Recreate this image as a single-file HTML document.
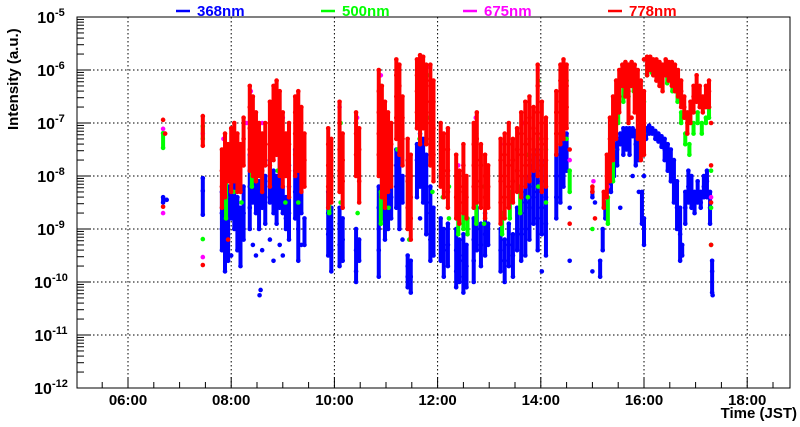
<!DOCTYPE html>
<html><head><meta charset="utf-8"><style>
html,body{margin:0;padding:0;background:#fff;}
svg{display:block;font-family:"Liberation Sans",Arial,sans-serif;}
</style></head><body>
<svg id="chart" width="800" height="427" viewBox="0 0 800 427" xmlns="http://www.w3.org/2000/svg">
<g id="grid"></g>
<g id="series"></g>
<g id="axes"></g>
<g font-weight="bold" font-size="15">
  <g><line x1="176" y1="11" x2="190" y2="11" stroke="#0000ff" stroke-width="2.5"/><text x="197" y="16" fill="#0000ff">368nm</text></g>
  <g><line x1="321" y1="11" x2="335" y2="11" stroke="#00ff00" stroke-width="2.5"/><text x="342" y="16" fill="#00ff00">500nm</text></g>
  <g><line x1="463" y1="11" x2="477" y2="11" stroke="#ff00ff" stroke-width="2.5"/><text x="484" y="16" fill="#ff00ff">675nm</text></g>
  <g><line x1="608" y1="11" x2="622" y2="11" stroke="#ff0000" stroke-width="2.5"/><text x="629" y="16" fill="#ff0000">778nm</text></g>
</g>
<text transform="translate(18,130) rotate(-90)" font-size="15" font-weight="bold">Intensity (a.u.)</text>
<text x="797" y="418" text-anchor="end" font-size="15" font-weight="bold">Time (JST)</text>
</svg>
<script>
const xTickLabels = ["06:00","08:00","10:00","12:00","14:00","16:00","18:00"];
const xTickHours = [6,8,10,12,14,16,18];
const yTickExps = [-12,-11,-10,-9,-8,-7,-6,-5];

const blueT = [6.68,6.75,7.45,7.82,7.88,7.94,8.0,8.06,8.12,8.18,8.24,8.36,8.42,8.48,8.54,8.6,8.66,8.75,8.82,8.88,8.94,9.0,9.06,9.12,9.24,9.3,9.36,9.42,9.88,9.94,10.1,10.16,10.42,10.48,10.86,10.92,10.98,11.04,11.1,11.2,11.26,11.32,11.42,11.48,11.6,11.66,11.72,11.78,11.86,11.92,12.06,12.12,12.2,12.36,12.42,12.5,12.56,12.7,12.76,12.84,12.92,12.98,13.22,13.3,13.38,13.46,13.54,13.62,13.7,13.78,13.86,13.94,14.02,14.1,14.3,14.38,14.44,14.5,14.56,15.0,15.05,15.15,15.2,15.25,15.3,15.36,15.42,15.48,15.54,15.6,15.66,15.72,15.78,15.84,15.9,15.96,16.0,16.04,16.1,16.16,16.22,16.28,16.34,16.4,16.46,16.52,16.58,16.64,16.7,16.74,16.8,16.86,16.92,16.98,17.04,17.1,17.16,17.22,17.28,17.32];
const blueV = [[-8.4,-8.5],[-8.45],[-8.04,-8.28,-8.73],[-8.3,-8.7,-9.0,-9.4],[-8.0,-8.5,-8.9,-9.3,-9.8],[-8.2,-8.6,-9.1,-9.6],[-8.3,-8.8,-9.5],[-8.1,-8.5,-9.0],[-8.4,-8.9,-9.4],[-8.6,-9.1,-9.7],[-8.2,-8.7,-9.2],[-7.6,-7.9,-8.2,-8.6,-9.0],[-7.8,-8.1,-8.5,-9.3],[-7.9,-8.3,-8.7,-9.5],[-8.1,-8.5,-9.0],[-7.8,-8.2,-8.6,-9.4],[-8.0,-8.4,-8.9],[-7.7,-8.1,-8.5,-9.2],[-7.9,-8.3,-8.7,-9.6],[-8.0,-8.4,-8.9],[-7.6,-8.1,-8.6,-9.3],[-8.2,-8.7,-9.5],[-8.4,-8.8,-9.0],[-7.8,-8.2,-8.7,-9.2],[-7.5,-7.9,-8.3,-8.8],[-7.6,-8.0,-8.5,-9.0,-9.6],[-8.2,-8.7,-9.3],[-8.8,-9.3],[-8.3,-8.7,-9.1,-9.5],[-8.6,-9.0,-9.4,-9.8],[-8.6,-8.9,-9.3,-9.7],[-8.8,-9.2,-9.6],[-9.0,-9.4,-9.8,-10.0],[-9.2,-9.6],[-8.2,-8.6,-9.0,-9.4,-9.9],[-7.7,-8.0,-8.4,-8.8],[-7.9,-8.3,-8.7,-9.2],[-7.8,-8.1,-8.5,-9.0],[-8.0,-8.4,-8.8],[-7.5,-7.8,-8.2,-8.6],[-7.6,-8.0,-8.5,-9.0],[-8.0,-8.5,-9.2],[-9.5,-9.7,-9.9,-10.1],[-9.6,-9.9,-10.2],[-7.4,-7.7,-8.0,-8.4],[-7.2,-7.5,-7.8,-8.2,-8.8],[-7.3,-7.6,-8.0,-8.5],[-7.6,-8.0,-8.5,-9.1],[-8.2,-8.7,-9.2,-9.6],[-8.6,-9.0,-9.5],[-8.8,-9.2,-9.6],[-9.0,-9.4,-9.9],[-8.9,-9.3,-9.7],[-9.0,-9.4,-9.8,-10.1],[-9.2,-9.6,-10.0],[-9.1,-9.5,-9.9,-10.2],[-9.3,-9.7,-10.1],[-8.8,-9.2,-9.6,-10.0],[-8.6,-9.0,-9.4],[-8.9,-9.3,-9.7],[-8.7,-9.1,-9.5],[-8.9,-9.3],[-9.0,-9.4,-9.8],[-9.2,-9.6,-10.0],[-8.9,-9.3,-9.7],[-9.1,-9.5,-9.9],[-8.6,-9.0,-9.4],[-8.3,-8.7,-9.1,-9.6],[-8.0,-8.5,-9.0,-9.5],[-7.8,-8.2,-8.6,-9.2],[-7.6,-8.0,-8.4,-8.9],[-7.5,-7.9,-8.3,-8.8,-9.4],[-7.7,-8.1,-8.6,-9.1,-9.8],[-8.0,-8.4,-8.9,-9.5],[-7.6,-8.0,-8.4,-8.8],[-7.2,-7.6,-8.0,-8.5],[-7.1,-7.4,-7.8,-8.2],[-7.2,-7.5,-7.9],[-8.6,-9.6],[-8.3,-8.4,-9.8],[-8.5],[-9.6,-9.9],[-9.0,-9.4],[-8.5,-8.8],[-8.0,-8.3],[-7.6,-7.9,-8.3],[-7.4,-7.6,-8.0],[-7.3,-7.5,-7.8],[-7.2,-7.4,-8.6],[-7.1,-7.3,-7.6],[-7.1,-7.3,-7.5],[-7.1,-7.2,-7.6],[-7.1,-7.25,-8.0],[-7.15,-7.4,-7.8],[-7.3,-7.7,-8.3],[-7.6,-8.3,-8.9],[-8.0,-8.8,-9.3],[-7.1,-7.3],[-7.05,-7.2],[-7.1,-7.2],[-7.15,-7.3],[-7.2,-7.35],[-7.25,-7.45],[-7.3,-7.5,-7.7],[-7.4,-7.6,-7.9],[-7.5,-7.8,-8.1],[-7.7,-8.1,-8.5],[-8.1,-8.6,-9.0],[-8.6,-9.1,-9.6],[-9.3,-9.5],[-8.3,-8.6,-8.9],[-7.9,-8.2,-8.5],[-8.0,-8.3,-8.6],[-8.3,-8.5,-8.7],[-8.1,-8.3,-8.5],[-8.3,-8.5,-8.6],[-8.0,-8.2,-8.4],[-7.9,-8.1,-8.4],[-8.3,-8.6,-8.9],[-9.6,-9.8,-10.2]];
const blueOutT = [8.55,8.57,17.33];
const blueOutV = [-10.25,-10.15,-10.25];

const greenT = [6.68,7.45,7.9,8.05,8.2,8.4,8.55,8.8,8.9,9.05,9.3,9.9,10.12,10.45,10.9,11.05,11.22,11.45,11.65,11.8,11.9,12.1,12.22,12.4,12.5,12.58,12.75,12.9,13.25,13.4,13.6,13.75,13.95,14.1,14.4,14.5,14.56,15.0,15.3,15.4,15.5,15.6,15.7,15.8,15.9,16.0,16.06,16.15,16.25,16.35,16.45,16.55,16.65,16.72,16.8,16.88,16.96,17.04,17.12,17.2,17.26,17.3];
const greenV = [[-7.19,-7.47],[-7.06,-7.3,-9.19],[-7.9,-8.4,-8.8],[-7.6,-8.3],[-7.5,-8.5],[-6.9,-7.6,-8.2],[-7.2,-8.0],[-6.6,-7.3],[-6.7,-7.9],[-7.5,-8.5],[-6.9,-7.6,-8.5],[-8.1,-8.7],[-7.0,-8.5],[-7.6,-8.7],[-6.3,-7.0,-8.3,-8.9],[-7.5,-8.6],[-6.0,-6.7,-7.5],[-8.2,-9.2],[-5.9,-6.5,-7.3],[-6.1,-6.9],[-6.4,-7.5,-8.3],[-7.6,-8.4],[-8.2,-8.8],[-8.6,-9.1],[-8.5,-9.0],[-8.8,-9.1],[-7.2,-8.3,-8.9],[-8.2,-8.9],[-8.7,-9.1],[-8.3,-8.8],[-8.2,-8.7],[-7.6,-8.4],[-6.2,-7.3,-8.2],[-7.5,-8.5],[-6.0,-6.4,-7.0],[-6.2,-7.3],[-7.9,-8.3],[-9.0],[-8.4,-8.9],[-7.5,-8.1],[-6.7,-7.0],[-6.2,-6.6],[-6.2,-6.5],[-6.2,-6.4],[-6.4,-6.7],[-6.6,-7.2],[-6.0,-6.1],[-5.95,-6.05],[-6.0,-6.1],[-6.05,-6.2],[-6.1,-6.25],[-6.2,-6.4],[-6.4,-6.6],[-6.8,-7.0],[-7.2,-7.4],[-7.4,-7.6],[-7.0,-7.2],[-6.8,-7.0],[-7.0,-7.2],[-6.9,-7.0],[-6.7,-6.9],[-7.9,-8.6,-9.3]];

const magT = [6.68,7.45,7.85,8.3,8.38,8.6,8.85,9.0,9.28,9.9,10.1,10.44,10.9,11.24,11.66,11.85,12.08,12.4,12.74,13.3,13.66,13.94,14.4,14.56,15.02,15.3,15.5,15.8,16.1,16.5,17.3];
const magV = [[-7.11,-8.7],[-7.2,-9.53],[-7.3,-8.0],[-7.0],[-6.4,-7.3],[-7.0],[-6.3,-7.1],[-6.9],[-6.5,-7.4],[-7.5],[-6.7],[-6.9],[-6.1,-7.2],[-5.9],[-5.8,-6.8],[-5.95],[-7.2],[-7.8,-8.6],[-6.9],[-7.4],[-7.0],[-6.0],[-5.9],[-7.7],[-8.1],[-8.2],[-6.3],[-5.95],[-5.8],[-5.95],[-8.4]];

const redT = [6.68,6.72,7.45,7.82,7.88,7.94,8.0,8.06,8.12,8.18,8.24,8.36,8.42,8.48,8.54,8.6,8.66,8.75,8.82,8.88,8.94,9.0,9.06,9.12,9.24,9.3,9.36,9.42,9.88,9.94,10.1,10.16,10.42,10.48,10.86,10.92,10.98,11.04,11.1,11.2,11.26,11.32,11.42,11.48,11.6,11.66,11.72,11.78,11.86,11.92,12.06,12.12,12.2,12.36,12.42,12.5,12.56,12.7,12.76,12.84,12.92,12.98,13.22,13.3,13.38,13.46,13.54,13.62,13.7,13.78,13.86,13.94,14.02,14.1,14.3,14.38,14.44,14.5,14.56,15.0,15.05,15.22,15.28,15.34,15.4,15.46,15.52,15.58,15.64,15.7,15.76,15.82,15.88,15.94,16.0,16.06,16.12,16.18,16.24,16.3,16.36,16.42,16.48,16.54,16.6,16.66,16.72,16.78,16.84,16.9,16.96,17.02,17.08,17.14,17.2,17.26,17.3];
const redV = [[-6.94,-8.58],[-7.2],[-6.87,-7.43,-9.68],[-7.5,-7.9,-8.2,-8.6],[-7.2,-7.6,-8.0,-8.4],[-7.4,-7.8,-8.1,-9.2],[-7.1,-7.5,-7.9,-8.3],[-7.0,-7.3,-7.7,-8.1],[-7.2,-7.6,-8.0,-8.3],[-7.4,-7.8,-8.3],[-6.9,-7.3,-7.8],[-6.3,-6.7,-7.1,-7.5,-7.9],[-6.5,-6.9,-7.2,-7.6,-8.0],[-6.8,-7.1,-7.4,-7.7,-8.1],[-7.0,-7.3,-7.6,-8.0],[-7.2,-7.5,-7.9,-8.3],[-7.0,-7.4,-7.8],[-6.6,-7.0,-7.4,-7.8,-8.2],[-6.3,-6.6,-7.0,-7.3,-7.7],[-6.2,-6.5,-6.9,-7.2,-7.6],[-6.4,-6.8,-7.1,-7.5,-8.0],[-6.8,-7.2,-7.6,-8.2],[-7.2,-7.6,-8.0],[-7.0,-7.4,-7.9,-8.4],[-6.5,-6.8,-7.2,-7.6,-8.0],[-6.4,-6.7,-7.1,-7.5,-7.9],[-6.7,-7.0,-7.4,-7.8,-8.3],[-7.2,-7.7,-8.2],[-7.1,-7.4,-7.8,-8.2,-8.6],[-7.3,-7.7,-8.1,-8.5],[-6.6,-7.0,-7.5,-7.9,-8.3],[-7.2,-7.7,-8.1,-8.6],[-6.8,-7.2,-7.6,-8.0],[-7.1,-7.5,-8.1,-8.5],[-6.0,-6.4,-6.8,-7.2,-7.6,-8.0],[-6.3,-6.7,-7.1,-7.5,-7.9,-8.4],[-6.6,-7.0,-7.4,-7.7,-8.1,-8.6],[-6.8,-7.1,-7.4,-7.8,-8.3],[-7.0,-7.4,-7.8,-8.2],[-5.8,-6.1,-6.5,-6.9,-7.3],[-5.9,-6.3,-6.7,-7.1,-7.6],[-6.5,-6.9,-7.3,-7.8],[-7.3,-7.7,-8.1,-8.6,-9.0],[-7.6,-8.0,-8.4,-8.8,-9.2],[-5.8,-6.1,-6.4,-6.8,-7.1],[-5.72,-6.0,-6.3,-6.6,-7.0,-7.4],[-5.75,-6.0,-6.3,-6.7,-7.1],[-5.9,-6.2,-6.6,-7.0,-7.4],[-5.9,-6.3,-6.8,-7.3,-7.8],[-6.2,-6.6,-7.1,-7.6,-8.1],[-7.0,-7.4,-7.8,-8.2],[-7.2,-7.5,-7.9,-8.4],[-7.1,-7.5,-7.9,-8.3,-8.6],[-7.6,-8.0,-8.4,-8.8],[-7.9,-8.2,-8.5,-8.9],[-7.4,-7.8,-8.3,-8.7],[-8.0,-8.4,-8.8],[-7.0,-7.4,-7.8,-8.2,-8.6],[-6.8,-7.3,-7.7,-8.1,-8.5],[-7.4,-7.8,-8.2,-8.6],[-7.6,-8.0,-8.4,-8.8],[-7.8,-8.2,-8.6],[-7.3,-7.7,-8.1,-8.5,-8.9],[-7.2,-7.6,-8.0,-8.4,-8.8],[-7.0,-7.4,-7.8,-8.2,-8.6],[-7.3,-7.7,-8.1,-8.5],[-7.1,-7.5,-7.9,-8.3],[-6.8,-7.2,-7.6,-8.0,-8.4],[-6.6,-7.0,-7.4,-7.8,-8.2],[-6.5,-6.9,-7.3,-7.7,-8.1],[-6.7,-7.1,-7.5,-7.9],[-5.9,-6.3,-6.8,-7.2,-7.6,-8.0],[-6.6,-7.0,-7.4,-7.8,-8.3],[-6.9,-7.3,-7.7,-8.2],[-6.4,-6.8,-7.2,-7.6],[-5.9,-6.2,-6.6,-7.0,-7.4],[-5.8,-6.1,-6.5,-6.9,-7.3],[-5.9,-6.3,-6.7,-7.1],[-7.5,-8.9],[-8.3,-8.2],[-8.8],[-8.3,-8.6],[-7.6,-8.0,-8.4],[-6.9,-7.3,-7.7,-8.1],[-6.5,-6.9,-7.3,-7.7],[-6.2,-6.5,-6.9,-7.3],[-6.0,-6.2,-6.5,-6.8],[-5.9,-6.1,-6.3],[-5.85,-6.0,-6.2,-6.5],[-5.9,-6.1,-6.4,-7.0],[-5.85,-6.0,-6.3,-6.9],[-5.9,-6.1,-6.4,-6.8],[-6.0,-6.3,-6.8,-7.3],[-6.2,-6.7,-7.2,-7.7],[-5.8,-6.4,-7.0,-7.6],[-5.75,-5.9,-6.1],[-5.75,-5.85,-6.0],[-5.8,-5.9,-6.1],[-5.8,-5.95,-6.2],[-5.85,-6.0,-6.3],[-5.9,-6.1,-6.4],[-5.8,-5.9,-6.1],[-5.85,-5.95,-6.2],[-5.85,-6.0,-6.3],[-5.9,-6.05,-6.4],[-6.0,-6.2,-6.5],[-6.2,-6.4,-6.7],[-6.5,-6.7,-6.9],[-6.8,-7.0,-7.2],[-6.6,-6.8,-7.0],[-6.3,-6.5,-6.8],[-6.1,-6.3,-6.6],[-6.3,-6.5,-6.7],[-6.5,-6.6,-6.8],[-6.3,-6.5,-6.7],[-6.2,-6.4,-6.7],[-7.0,-7.8,-8.5,-9.3]];

const NS = "http://www.w3.org/2000/svg";
const L = 77, R = 790, T = 17, B = 388;
function xScale(h){ return 128 + (h - 6) * 51.6; }
function yScale(e){ return B - (e + 12) * 53; }
function mk(tag, attrs, parent){ const el = document.createElementNS(NS, tag); for (const k in attrs) el.setAttribute(k, attrs[k]); parent.appendChild(el); return el; }

const grid = document.getElementById('grid');
const axes = document.getElementById('axes');
const seriesG = document.getElementById('series');

xTickHours.forEach(h => {
  const l = mk('line', {x1:xScale(h), x2:xScale(h), y1:T, y2:B, stroke:'#000', 'stroke-width':1, 'stroke-dasharray':'1.5,2.5'}, grid);
  
  
});
yTickExps.forEach(e => {
  if (e === -12 || e === -5) return;
  const l = mk('line', {x1:L, x2:R, y1:yScale(e), y2:yScale(e), stroke:'#000', 'stroke-width':1, 'stroke-dasharray':'1.5,2.5'}, grid);
  
  
});

function drawSeries(ts, vs, color, name){
  const g = mk('g', {}, seriesG);
  
  
  ts.forEach((t, i) => {
    const x = xScale(t);
    const vals = vs[i];
    for (let j = 0; j < vals.length - 1; j++) {
      if (Math.abs(vals[j] - vals[j+1]) <= 0.6) {
        const s = mk('line', {x1:x, x2:x, y1:yScale(vals[j]), y2:yScale(vals[j+1]), stroke:color, 'stroke-width':4, 'stroke-linecap':'round'}, g);
        
        
      }
    }
    vals.forEach(v => {
      const c = mk('circle', {cx:x, cy:yScale(v), r:2.3, fill:color}, g);
      
      
    });
  });
}
drawSeries(blueT, blueV, '#0000ff', 'series-368nm');
drawSeries(blueOutT, blueOutV.map(v => [v]), '#0000ff', 'series-368nm-outliers');
drawSeries(greenT, greenV, '#00ff00', 'series-500nm');
drawSeries(magT, magV, '#ff00ff', 'series-675nm');
drawSeries(redT, redV, '#ff0000', 'series-778nm');

const frame = mk('rect', {x:L, y:T, width:R-L, height:B-T, fill:'none', stroke:'#000', 'stroke-width':1}, axes);



yTickExps.forEach(e => {
  const y = yScale(e);
  const t = mk('line', {x1:L, x2:L+14, y1:y, y2:y, stroke:'#000', 'stroke-width':1}, axes);
  
  
  if (e < -5) {
    for (let m = 2; m <= 9; m++) {
      const ym = yScale(e + Math.log10(m));
      const mt = mk('line', {x1:L, x2:L+7, y1:ym, y2:ym, stroke:'#000', 'stroke-width':1}, axes);
      
      
    }
  }
  const tx = mk('text', {x:L-26, y:y+6, 'text-anchor':'middle', 'font-size':16, 'font-weight':'bold'}, axes);
  
  
  tx.textContent = '10';
  const sup = document.createElementNS(NS, 'tspan');
  sup.setAttribute('dy', -7);
  sup.setAttribute('font-size', 11);
  sup.textContent = String(e);
  tx.appendChild(sup);
});

for (let h = 5.5; h <= 18.8; h += 0.5) {
  const x = xScale(h);
  const major = Math.abs(h - Math.round(h)) < 0.01 && Math.round(h) % 2 === 0;
  const t = mk('line', {x1:x, x2:x, y1:B, y2:B - (major ? 11 : 6), stroke:'#000', 'stroke-width':1}, axes);
  
  
}
xTickHours.forEach((h, i) => {
  const tx = mk('text', {x:xScale(h), y:B+17, 'text-anchor':'middle', 'font-size':15, 'font-weight':'bold'}, axes);
  
  
  tx.textContent = xTickLabels[i];
});
</script>
</body></html>
